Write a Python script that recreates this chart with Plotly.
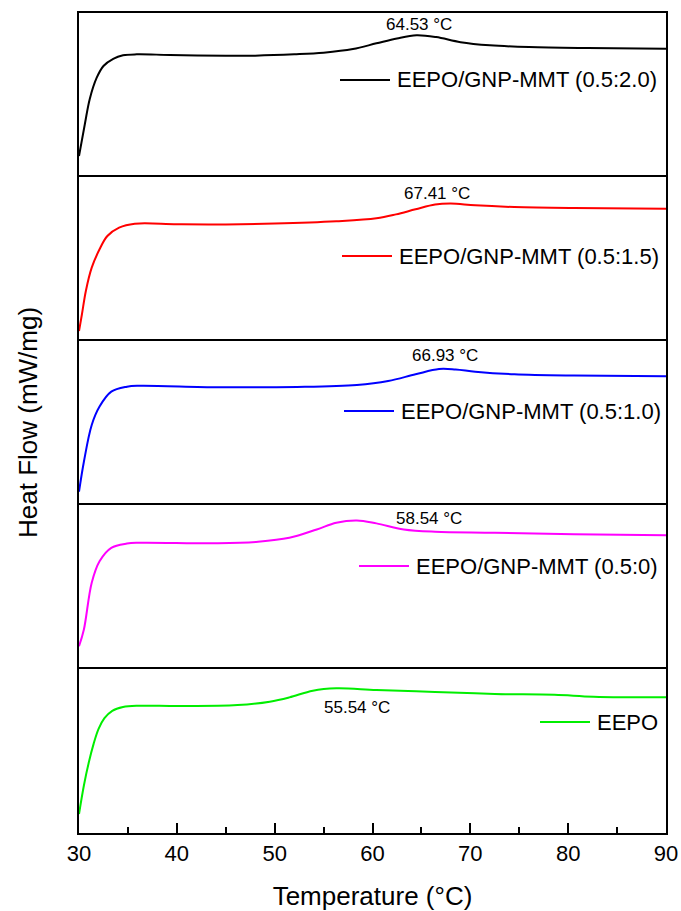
import plotly.graph_objects as go
from plotly.subplots import make_subplots

# ---- data (heat flow, arbitrary stacked units: each panel normalised 0..1) ----
names = ["EEPO/GNP-MMT (0.5:2.0)", "EEPO/GNP-MMT (0.5:1.5)", "EEPO/GNP-MMT (0.5:1.0)",
         "EEPO/GNP-MMT (0.5:0)", "EEPO"]
colors = ["#000000", "#ff0000", "#0000ff", "#ff00ff", "#00ee00"]

t_s1 = [30, 30.6, 31.1, 31.8, 32.5, 33.5, 34.5, 35.9, 39.3, 45, 48, 52, 55, 58, 60.4, 62.5, 64.5, 66.5, 69, 72, 76, 82, 90]
hf_s1 = [0.128, 0.323, 0.476, 0.604, 0.677, 0.721, 0.742, 0.748, 0.744, 0.739, 0.740, 0.748, 0.758, 0.780, 0.815, 0.845, 0.864, 0.853, 0.822, 0.803, 0.792, 0.786, 0.782]

t_s2 = [30, 30.3, 30.7, 31.3, 32.1, 32.9, 34.1, 35.7, 40, 45, 50, 56.3, 60.4, 62.4, 64.4, 66.4, 68.0, 70.5, 74.5, 80.6, 90]
hf_s2 = [0.061, 0.163, 0.305, 0.447, 0.559, 0.640, 0.691, 0.715, 0.712, 0.711, 0.716, 0.730, 0.748, 0.772, 0.803, 0.832, 0.838, 0.827, 0.817, 0.811, 0.807]

t_s3 = [30, 30.5, 31.3, 32.1, 33.3, 34.9, 36.1, 44.2, 52.3, 58.4, 61.6, 64.4, 66.8, 68.5, 70.5, 74.5, 80.6, 90]
hf_s3 = [0.081, 0.264, 0.488, 0.600, 0.691, 0.721, 0.727, 0.718, 0.720, 0.732, 0.756, 0.797, 0.829, 0.826, 0.813, 0.797, 0.789, 0.785]

t_s4 = [30, 30.5, 31.3, 32.1, 33.3, 34.9, 36.1, 44.2, 48.3, 51.5, 54.3, 56.3, 58.4, 60.4, 63.2, 66.4, 72.5, 80.6, 90]
hf_s4 = [0.139, 0.241, 0.526, 0.657, 0.739, 0.765, 0.770, 0.767, 0.776, 0.800, 0.851, 0.892, 0.906, 0.888, 0.851, 0.837, 0.831, 0.821, 0.815]

t_s5 = [30, 30.5, 31.0, 31.5, 32.0, 32.6, 33.4, 34.5, 36.0, 40.2, 46.2, 49.5, 51.5, 53.9, 56.3, 60.4, 66.4, 72.5, 78.6, 82.6, 90]
hf_s5 = [0.116, 0.290, 0.430, 0.545, 0.635, 0.700, 0.745, 0.768, 0.776, 0.774, 0.780, 0.801, 0.827, 0.868, 0.882, 0.872, 0.860, 0.848, 0.843, 0.831, 0.827]

peak_labels = ["64.53 °C", "67.41 °C", "66.93 °C", "58.54 °C", "55.54 °C"]
peak_label_x = [64.8, 66.6, 67.4, 65.8, 58.4]
peak_label_y = [0.928, 0.898, 0.91, 0.92, 0.766]

x_ticks = [30, 40, 50, 60, 70, 80, 90]

temps = [t_s1, t_s2, t_s3, t_s4, t_s5]
flows = [hf_s1, hf_s2, hf_s3, hf_s4, hf_s5]

# ---- figure ----
W, H = 681, 911
ML, MR, MT, MB = 79, 15, 13, 78
PW, PH = W - ML - MR, H - MT - MB
FONT = "Arial, Liberation Sans, sans-serif"

fig = make_subplots(rows=5, cols=1, shared_xaxes=True, vertical_spacing=0)

# legend placement (pixels in the page)
legend_line_x0 = [340, 342, 344, 359, 540]
legend_py = [80, 256, 411, 566, 722]

shapes = []
for i in range(5):
    fig.add_trace(go.Scatter(x=temps[i], y=flows[i], mode="lines", name=names[i],
                             line=dict(color=colors[i], width=2, shape="spline", smoothing=1.0),
                             showlegend=False, hoverinfo="skip"), row=i + 1, col=1)
    xr = f"x{i+1}" if i else "x"
    yr = f"y{i+1}" if i else "y"
    fig.add_annotation(x=peak_label_x[i], y=peak_label_y[i], text=peak_labels[i],
                       showarrow=False, font=dict(size=17, color="black", family=FONT),
                       xref=xr, yref=yr)
    # legend entry: sample line + label
    yp = 1 - (legend_py[i] - MT) / PH
    x0 = (legend_line_x0[i] - ML) / PW
    x1 = (legend_line_x0[i] + 50 - ML) / PW
    shapes.append(dict(type="line", xref="paper", yref="paper", x0=x0, x1=x1, y0=yp, y1=yp,
                       line=dict(color=colors[i], width=2)))
    fig.add_annotation(x=(legend_line_x0[i] + 55 - ML) / PW, y=yp, xref="paper", yref="paper",
                       text=names[i], showarrow=False, xanchor="left", yanchor="middle",
                       font=dict(size=22, color="black", family=FONT))

    fig.update_yaxes(range=[0, 1], showticklabels=False, ticks="", showgrid=False,
                     zeroline=False, showline=True, linecolor="black", linewidth=2,
                     mirror=True, automargin=False, row=i + 1, col=1)
    fig.update_xaxes(range=[30, 90], showgrid=False, zeroline=False, showline=True,
                     linecolor="black", linewidth=2, mirror=False, side="top",
                     automargin=False, row=i + 1, col=1,
                     ticks="", showticklabels=False)

fig.update_xaxes(row=5, col=1, side="bottom", mirror=True,
                 ticks="inside", ticklen=10, tickwidth=2, tickcolor="black",
                 tickvals=x_ticks, showticklabels=True,
                 tickfont=dict(size=22, color="black", family=FONT),
                 minor=dict(ticks="inside", dtick=5, ticklen=6, tickwidth=2, tickcolor="black"),
                 title=dict(text="Temperature (°C)", font=dict(size=26, color="black", family=FONT),
                            standoff=22))

fig.add_annotation(text="Heat Flow (mW/mg)", textangle=-90, xref="paper", yref="paper",
                   x=-(ML - 28) / PW, y=0.5, xanchor="center", yanchor="middle",
                   showarrow=False, font=dict(size=26, color="black", family=FONT))

fig.update_layout(width=W, height=H, margin=dict(l=ML, r=MR, t=MT, b=MB, autoexpand=False),
                  plot_bgcolor="white", paper_bgcolor="white", showlegend=False,
                  shapes=shapes, font=dict(family=FONT, color="black"))

fig.write_html("out.html", config={"displayModeBar": False},
               post_script="document.body.style.margin='0';document.body.style.overflow='hidden';")
